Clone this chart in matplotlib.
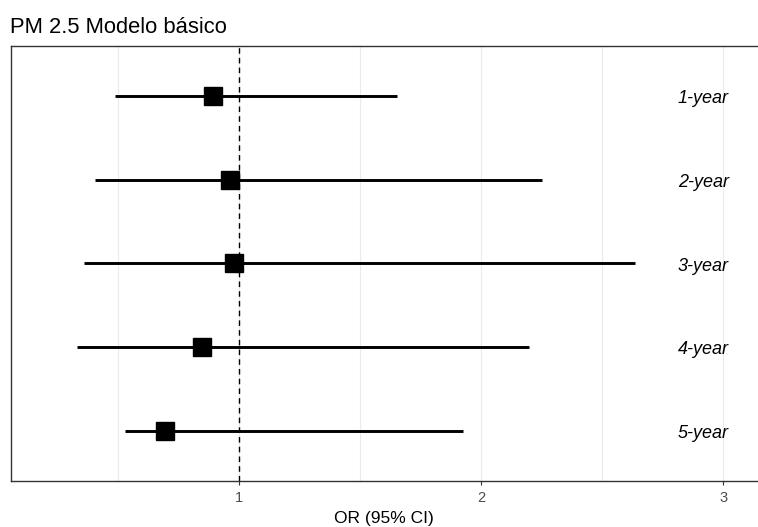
import matplotlib
matplotlib.use("Agg")
import matplotlib.pyplot as plt

labels = ["1-year", "2-year", "3-year", "4-year", "5-year"]
or_est = [0.893, 0.963, 0.979, 0.848, 0.695]
ci_low = [0.486, 0.407, 0.358, 0.329, 0.527]
ci_high = [1.654, 2.251, 2.634, 2.198, 1.926]
x_ticks = [1, 2, 3]
x_minor = [0.5, 1.5, 2.5]

plt.rcParams['font.family'] = ['Liberation Sans', 'DejaVu Sans']

fig = plt.figure(figsize=(7.58, 5.27), dpi=100)
ax = fig.add_axes([0.0139, 0.0873, 0.9848, 0.8254])

ys = list(range(1, len(labels) + 1))
for xv in x_ticks + x_minor:
    ax.axvline(xv, color='#EBEBEB', lw=0.8, zorder=0)
ax.axvline(1, color='black', lw=1.0, ls=(0, (4, 3)), zorder=1)
ax.hlines(ys, ci_low, ci_high, color='black', lw=2.1, zorder=2)
ax.plot(or_est, ys, ls='none', marker='s', ms=13, color='black', zorder=3)
for y, lab in zip(ys, labels):
    ax.annotate(lab, xy=(3.024, y), xytext=(0, -2.0), textcoords='offset points',
                ha='right', va='center', fontsize=13, style='italic', color='black')

ax.set_xlim(0.056, 3.14)
ax.set_ylim(5.6, 0.4)
ax.set_yticks([])
ax.set_xticks(x_ticks)
ax.set_xticklabels([str(t) for t in x_ticks], fontsize=10.5, color='#4D4D4D')
ax.tick_params(axis='x', length=3, color='#333333', pad=4.2)
ax.spines['right'].set_visible(False)
for s in ax.spines.values():
    s.set_color('#333333')
    s.set_linewidth(1.0)
ax.set_xlabel("OR (95% CI)", fontsize=12.5, labelpad=4)
fig.text(0.0132, 0.948, "PM 2.5 Modelo básico", fontsize=15.8, ha='left', va='center')

fig.savefig("out.png", dpi=100)
